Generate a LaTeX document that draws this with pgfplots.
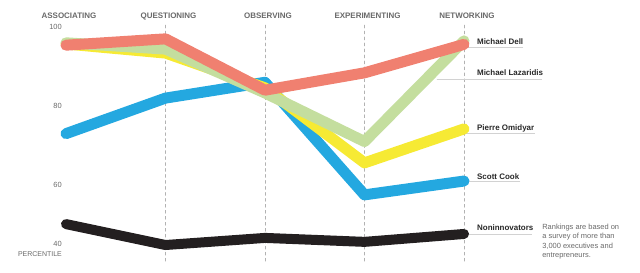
\documentclass[border=0pt]{standalone}
\usepackage{pgfplots}
\pgfplotsset{compat=1.18}
\usepackage{fontspec}
\setmainfont{Liberation Sans}
\definecolor{cRed}{RGB}{240,128,112}
\definecolor{cGreen}{RGB}{196,222,158}
\definecolor{cYellow}{RGB}{246,234,52}
\definecolor{cBlue}{RGB}{36,168,224}
\definecolor{cBlack}{RGB}{35,31,32}
\definecolor{cLab}{RGB}{105,105,105}
\definecolor{cName}{RGB}{40,40,40}
\begin{document}
\begin{tikzpicture}
\begin{axis}[
  width=640bp, height=273bp, scale only axis,
  xmin=-0.6633, xmax=5.7688,
  ymin=37.72, ymax=106.84,
  clip=false,
  axis line style={draw=none},
  tick style={draw=none}, major tick length=0pt,
  xtick={0,1,2,3,4},
  xticklabels={ASSOCIATING,QUESTIONING,OBSERVING,EXPERIMENTING,NETWORKING},
  xticklabel pos=right,
  xticklabel style={font=\fontsize{8}{8}\selectfont\bfseries, text=cLab, anchor=north, inner sep=0pt, yshift=-13bp, xshift=3bp},
  ytick={45.1,60,80,100},
  yticklabels={40,60,80,100},
  /pgf/number format/assume math mode=true,
  yticklabel style={font=\fontsize{7.5}{8}\selectfont, text=cLab, anchor=east, inner sep=0pt, xshift=62bp},
  line cap=round, line join=round,
]
% dashed guides
\addplot[gray!60, dashed, line width=0.5bp] coordinates {(1,100.5) (1,40.25)};
\addplot[gray!60, dashed, line width=0.5bp] coordinates {(2,100.5) (2,40.25)};
\addplot[gray!60, dashed, line width=0.5bp] coordinates {(3,100.5) (3,40.25)};
\addplot[gray!60, dashed, line width=0.5bp] coordinates {(4,100.5) (4,40.25)};
% leader lines
\addplot[gray!35, line width=0.6bp] coordinates {(4,94.9) (4.59,94.9)};
\addplot[gray!35, line width=0.6bp] coordinates {(3.73,86.8) (4.78,86.8)};
\addplot[gray!35, line width=0.6bp] coordinates {(4,73.2) (4.71,73.2)};
\addplot[gray!35, line width=0.6bp] coordinates {(4,61.0) (4.56,61.0)};
\addplot[gray!35, line width=0.6bp] coordinates {(4,47.6) (4.68,47.6)};
% series
\addplot[cBlack, line width=10bp] coordinates {(0,50.1) (1,44.8) (2,46.6) (3,45.6) (4,47.6)};
\addplot[cBlue, line width=11bp] coordinates {(0,73.0) (1,82.0) (2,86.0) (3,57.5) (4,61.0)};
\addplot[cYellow, line width=11bp] coordinates {(0,95.7) (1,93.4) (2,84.6) (3,65.6) (4,74.2)};
\addplot[cGreen, line width=11bp] coordinates {(0,96.0) (1,94.4) (2,83.3) (3,71.0) (4,96.5)};
\addplot[cRed, line width=11bp] coordinates {(0,95.4) (1,97.0) (2,84.0) (3,88.4) (4,95.6)};
% names
\begin{scope}[every node/.style={font=\fontsize{8}{9}\selectfont\bfseries, text=cName, anchor=west, inner sep=0pt}]
\node at (axis cs:4.13,96.2) {Michael Dell};
\node at (axis cs:4.13,88.35) {Michael Lazaridis};
\node at (axis cs:4.13,74.4) {Pierre Omidyar};
\node at (axis cs:4.13,62.0) {Scott Cook};
\node at (axis cs:4.13,49.1) {Noninnovators};
\end{scope}
\node[font=\fontsize{7}{7}\selectfont, text=cLab, anchor=east, inner sep=0pt] at (axis cs:-0.04,42.5) {PERCENTILE};
\node[font=\fontsize{7.5}{9.4}\selectfont, text=cLab, anchor=north west, inner sep=0pt, align=left] at (axis cs:4.785,50.2) {Rankings are based on\\a survey of more than\\3,000 executives and\\entrepreneurs.};
\end{axis}
\end{tikzpicture}
\end{document}
